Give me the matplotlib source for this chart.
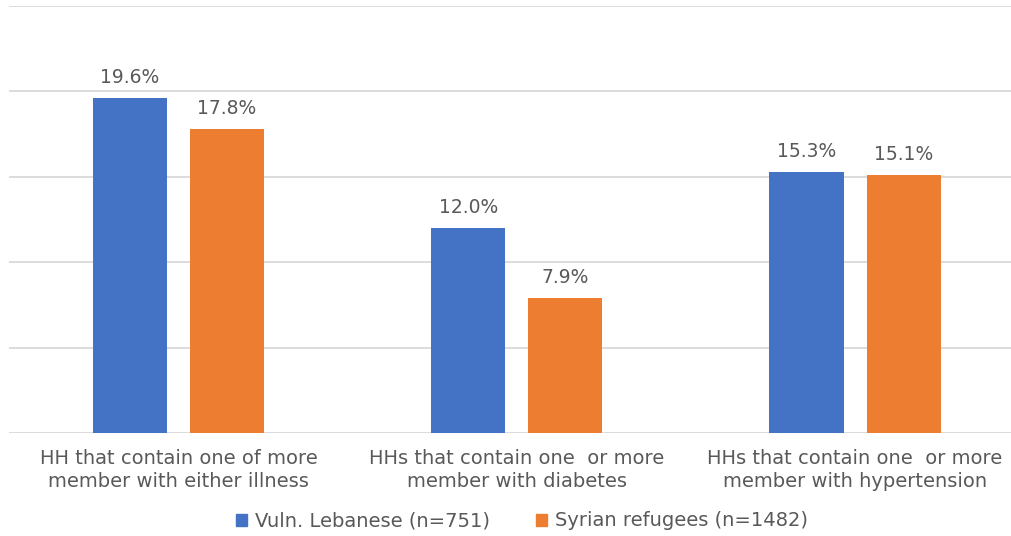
import matplotlib
matplotlib.use("Agg")
import matplotlib.pyplot as plt
import numpy as np

categories = [
    "HH that contain one of more\nmember with either illness",
    "HHs that contain one  or more\nmember with diabetes",
    "HHs that contain one  or more\nmember with hypertension",
]
series_names = ["Vuln. Lebanese (n=751)", "Syrian refugees (n=1482)"]
lebanese = [19.6, 12.0, 15.3]
syrian = [17.8, 7.9, 15.1]
colors = ["#4472C4", "#ED7D31"]

text_color = "#595959"
font = "DejaVu Sans"

fig = plt.figure(figsize=(10.12, 5.36), dpi=100)
ax = fig.add_axes([9.4 / 1012, (536 - 433) / 536, 1014.75 / 1012, (433 - 6) / 536])

x = np.arange(len(categories))
width = 0.219
offset = 0.1435
for vals, off, col in [(lebanese, -offset, colors[0]), (syrian, offset, colors[1])]:
    bars = ax.bar(x + off, vals, width=width, color=col, zorder=3)
    for b, v in zip(bars, vals):
        ax.text(b.get_x() + b.get_width() / 2, v + 0.65, f"{v:.1f}%",
                ha="center", va="bottom", fontsize=13.5, color=text_color,
                family=font)

ax.set_xlim(-0.5, len(categories) - 0.5)
ax.set_ylim(0, 25)
ax.set_yticks([0, 5, 10, 15, 20, 25])
ax.yaxis.grid(True, color="#D9D9D9", linewidth=1.3, zorder=0)
ax.tick_params(axis="y", length=0, labelleft=False)
ax.tick_params(axis="x", length=0, pad=11.5)
ax.set_xticks(x)
ax.set_xticklabels(categories, fontsize=14, color=text_color, family=font,
                   linespacing=1.3)
for s in ax.spines.values():
    s.set_visible(False)

handles = [plt.Rectangle((0, 0), 1, 1, color=c) for c in colors]
leg = fig.legend(handles, series_names, loc="center",
                 bbox_to_anchor=(0.516, (536 - 521) / 536),
                 ncol=2, frameon=False, handlelength=0.56, handleheight=0.56,
                 handletextpad=0.42, columnspacing=2.35,
                 prop={"family": font, "size": 14})
for t in leg.get_texts():
    t.set_color(text_color)

fig.savefig("out.png", dpi=100)
